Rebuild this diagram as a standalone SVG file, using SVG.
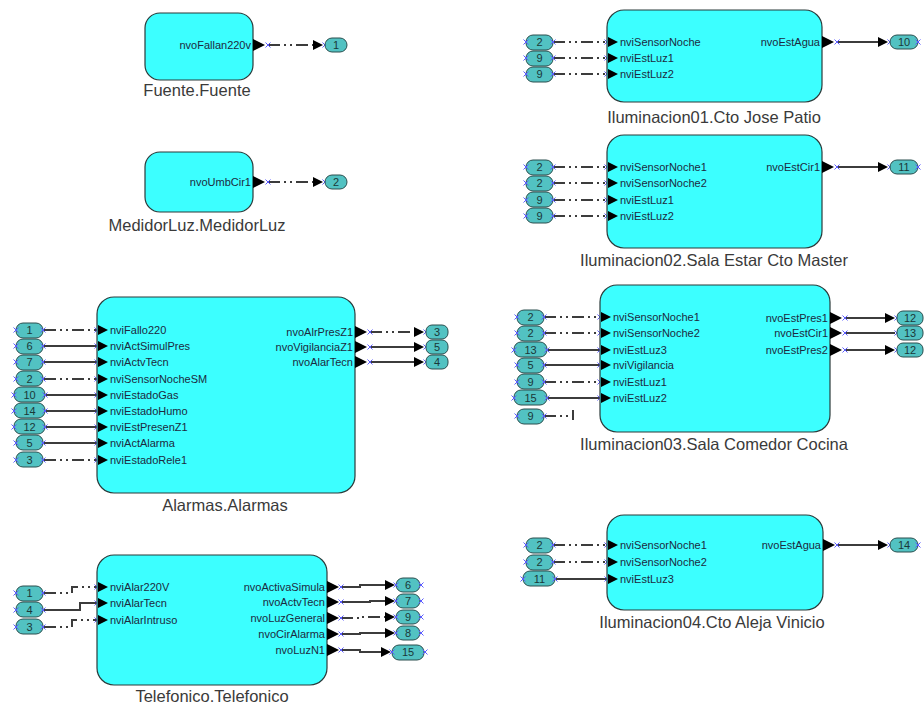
<svg xmlns="http://www.w3.org/2000/svg" xmlns:xlink="http://www.w3.org/1999/xlink" width="924" height="706" viewBox="0 0 924 706">
  <style>
    .box { fill: #3cffff; stroke: #2b3a3a; stroke-width: 1.2; }
    .nl { font-family: "Liberation Sans", Arial, sans-serif; font-size: 16.5px; fill: #3a3a3a; text-anchor: middle; }
    .pi { font-family: "Liberation Sans", Arial, sans-serif; font-size: 11px; fill: #1c2a40; }
    .po { font-family: "Liberation Sans", Arial, sans-serif; font-size: 11px; fill: #1c2a40; text-anchor: end; }
    .pill { fill: #52c2c2; stroke: #2a4f4f; stroke-width: 1; }
    .pt { font-family: "Liberation Sans", Arial, sans-serif; font-size: 11px; fill: #1a3838; text-anchor: middle; }
    .w { fill: none; stroke: #3c3c3c; stroke-width: 2; }
    .dd { fill: none; stroke: #3c3c3c; stroke-width: 2; stroke-dasharray: 12 4 2 4 2 4; }
    .xm { fill: none; stroke: #5b5bff; stroke-width: 1; }
  </style>
  <defs>
    <path id="pin" d="M0,-5 L10,0 L0,5 Z" fill="#000"/>
    <path id="pout" d="M0,-6 L12,0 L0,6 Z" fill="#000"/>
    <path id="ah" d="M-10,-5 L0,0 L-10,5 Z" fill="#000"/>
    <path id="xm" class="xm" d="M-2.5,-2.5 L2.5,2.5 M-2.5,2.5 L2.5,-2.5"/>
  </defs>

  <!-- ============ connectors ============ -->
  <g id="connectors">
    <!-- Fuente / MedidorLuz -->
    <line class="dd" x1="268" y1="45" x2="314" y2="45"/>
    <line class="dd" x1="268" y1="182" x2="314" y2="182"/>

    <!-- Alarmas inputs -->
    <line class="dd" x1="44" y1="330" x2="97" y2="330"/>
    <line class="w" x1="44" y1="346" x2="97" y2="346"/>
    <line class="w" x1="44" y1="362" x2="97" y2="362"/>
    <line class="dd" x1="44" y1="379" x2="97" y2="379"/>
    <line class="w" x1="46" y1="395" x2="97" y2="395"/>
    <line class="w" x1="46" y1="411" x2="97" y2="411"/>
    <line class="w" x1="46" y1="427" x2="97" y2="427"/>
    <line class="w" x1="44" y1="443" x2="97" y2="443"/>
    <line class="dd" x1="44" y1="460" x2="97" y2="460"/>
    <!-- Alarmas outputs -->
    <line class="dd" x1="370" y1="332" x2="416" y2="332"/>
    <line class="w" x1="370" y1="347" x2="416" y2="347"/>
    <line class="w" x1="370" y1="362" x2="416" y2="362"/>

    <!-- Telefonico inputs -->
    <polyline class="dd" points="44,593 72,593 72,587 97,587"/>
    <polyline class="w" points="44,610 80,610 80,603 97,603"/>
    <polyline class="dd" points="44,627 72,627 72,620 97,620"/>
    <!-- Telefonico outputs -->
    <polyline class="w" points="341,587 360,587 360,585 387,585"/>
    <polyline class="w" points="341,602 370,602 370,601 387,601"/>
    <polyline class="dd" points="341,618 360,618 360,617 387,617"/>
    <polyline class="w" points="341,634 360,634 360,633 387,633"/>
    <polyline class="w" points="341,650 360,650 360,652 383,652"/>

    <!-- Iluminacion01 -->
    <line class="dd" x1="553" y1="42" x2="607" y2="42"/>
    <line class="dd" x1="553" y1="58" x2="607" y2="58"/>
    <line class="dd" x1="553" y1="74" x2="607" y2="74"/>
    <line class="w" x1="837" y1="42" x2="880" y2="42"/>

    <!-- Iluminacion02 -->
    <line class="dd" x1="553" y1="167" x2="607" y2="167"/>
    <line class="dd" x1="553" y1="183" x2="607" y2="183"/>
    <line class="dd" x1="553" y1="200" x2="607" y2="200"/>
    <line class="dd" x1="553" y1="216" x2="607" y2="216"/>
    <line class="w" x1="837" y1="167" x2="880" y2="167"/>

    <!-- Iluminacion03 -->
    <line class="dd" x1="544" y1="317" x2="600" y2="317"/>
    <line class="dd" x1="544" y1="333" x2="600" y2="333"/>
    <line class="w" x1="547" y1="350" x2="600" y2="350"/>
    <line class="w" x1="544" y1="365" x2="600" y2="365"/>
    <line class="dd" x1="544" y1="382" x2="600" y2="382"/>
    <line class="w" x1="547" y1="398" x2="600" y2="398"/>
    <line class="dd" x1="544" y1="416" x2="568" y2="416"/>
    <line class="w" x1="573" y1="410" x2="573" y2="420" stroke-width="1.5"/>
    <line class="w" x1="845" y1="318" x2="887" y2="318"/>
    <line class="w" x1="845" y1="333" x2="895" y2="333"/>
    <line class="w" x1="845" y1="350" x2="887" y2="350"/>

    <!-- Iluminacion04 -->
    <line class="dd" x1="553" y1="545" x2="607" y2="545"/>
    <line class="dd" x1="553" y1="562" x2="607" y2="562"/>
    <line class="w" x1="553" y1="579" x2="607" y2="579"/>
    <line class="w" x1="837" y1="545" x2="880" y2="545"/>

    <!-- arrowheads at the receiving references -->
    <use href="#ah" x="323" y="45"/>
    <use href="#ah" x="323" y="182"/>
    <use href="#ah" x="424" y="332"/>
    <use href="#ah" x="424" y="347"/>
    <use href="#ah" x="424" y="362"/>
    <use href="#ah" x="395" y="585"/>
    <use href="#ah" x="395" y="601"/>
    <use href="#ah" x="395" y="617"/>
    <use href="#ah" x="395" y="633"/>
    <use href="#ah" x="391" y="652"/>
    <use href="#ah" x="888" y="42"/>
    <use href="#ah" x="888" y="167"/>
    <use href="#ah" x="895" y="318"/>
    <use href="#ah" x="895" y="350"/>
    <use href="#ah" x="888" y="545"/>

    <!-- binding end marks -->
    <use href="#xm" x="268" y="45"/><use href="#xm" x="325" y="45"/>
    <use href="#xm" x="268" y="182"/><use href="#xm" x="325" y="182"/>
    <use href="#xm" x="97" y="330"/><use href="#xm" x="97" y="346"/><use href="#xm" x="97" y="362"/>
    <use href="#xm" x="97" y="379"/><use href="#xm" x="97" y="395"/><use href="#xm" x="97" y="411"/>
    <use href="#xm" x="97" y="427"/><use href="#xm" x="97" y="443"/><use href="#xm" x="97" y="460"/>
    <use href="#xm" x="370" y="332"/><use href="#xm" x="370" y="347"/><use href="#xm" x="370" y="362"/>
    <use href="#xm" x="426" y="332"/><use href="#xm" x="426" y="347"/><use href="#xm" x="426" y="362"/>
    <use href="#xm" x="97" y="587"/><use href="#xm" x="97" y="603"/><use href="#xm" x="97" y="620"/>
    <use href="#xm" x="341" y="587"/><use href="#xm" x="341" y="602"/><use href="#xm" x="341" y="618"/>
    <use href="#xm" x="341" y="634"/><use href="#xm" x="341" y="650"/>
    <use href="#xm" x="607" y="42"/><use href="#xm" x="607" y="58"/><use href="#xm" x="607" y="74"/>
    <use href="#xm" x="837" y="42"/><use href="#xm" x="890" y="42"/>
    <use href="#xm" x="607" y="167"/><use href="#xm" x="607" y="183"/><use href="#xm" x="607" y="200"/><use href="#xm" x="607" y="216"/>
    <use href="#xm" x="837" y="167"/><use href="#xm" x="890" y="167"/>
    <use href="#xm" x="600" y="317"/><use href="#xm" x="600" y="333"/><use href="#xm" x="600" y="350"/>
    <use href="#xm" x="600" y="365"/><use href="#xm" x="600" y="382"/><use href="#xm" x="600" y="398"/>
    <use href="#xm" x="845" y="318"/><use href="#xm" x="845" y="333"/><use href="#xm" x="845" y="350"/>
    <use href="#xm" x="897" y="318"/><use href="#xm" x="897" y="333"/><use href="#xm" x="897" y="350"/>
    <use href="#xm" x="607" y="545"/><use href="#xm" x="607" y="562"/><use href="#xm" x="607" y="579"/>
    <use href="#xm" x="837" y="545"/><use href="#xm" x="890" y="545"/>
  </g>

  <!-- ============ function blocks ============ -->
  <g id="fuente">
    <rect class="box" x="145" y="13" width="108" height="67" rx="15"/>
    <text class="po" x="251" y="49">nvoFallan220v</text>
    <use href="#pout" x="253" y="45"/>
    <text class="nl" x="197" y="96">Fuente.Fuente</text>
  </g>

  <g id="medidorluz">
    <rect class="box" x="145" y="152" width="108" height="60" rx="15"/>
    <text class="po" x="251" y="186">nvoUmbCir1</text>
    <use href="#pout" x="253" y="182"/>
    <text class="nl" x="197" y="231">MedidorLuz.MedidorLuz</text>
  </g>

  <g id="alarmas">
    <rect class="box" x="97" y="297" width="258" height="196" rx="17"/>
    <use href="#pin" x="98" y="330"/><text class="pi" x="110" y="334">nviFallo220</text>
    <use href="#pin" x="98" y="346"/><text class="pi" x="110" y="350">nviActSimulPres</text>
    <use href="#pin" x="98" y="362"/><text class="pi" x="110" y="366">nviActvTecn</text>
    <use href="#pin" x="98" y="379"/><text class="pi" x="110" y="383">nviSensorNocheSM</text>
    <use href="#pin" x="98" y="395"/><text class="pi" x="110" y="399">nviEstadoGas</text>
    <use href="#pin" x="98" y="411"/><text class="pi" x="110" y="415">nviEstadoHumo</text>
    <use href="#pin" x="98" y="427"/><text class="pi" x="110" y="431">nviEstPresenZ1</text>
    <use href="#pin" x="98" y="443"/><text class="pi" x="110" y="447">nviActAlarma</text>
    <use href="#pin" x="98" y="460"/><text class="pi" x="110" y="464">nviEstadoRele1</text>
    <text class="po" x="353" y="336">nvoAlrPresZ1</text><use href="#pout" x="355" y="332"/>
    <text class="po" x="353" y="351">nvoVigilanciaZ1</text><use href="#pout" x="355" y="347"/>
    <text class="po" x="353" y="366">nvoAlarTecn</text><use href="#pout" x="355" y="362"/>
    <text class="nl" x="225" y="511">Alarmas.Alarmas</text>
  </g>

  <g id="telefonico">
    <rect class="box" x="97" y="555" width="230" height="130" rx="17"/>
    <use href="#pin" x="98" y="587"/><text class="pi" x="110" y="591">nviAlar220V</text>
    <use href="#pin" x="98" y="603"/><text class="pi" x="110" y="607">nviAlarTecn</text>
    <use href="#pin" x="98" y="620"/><text class="pi" x="110" y="624">nviAlarIntruso</text>
    <text class="po" x="325" y="591">nvoActivaSimula</text><use href="#pout" x="327" y="587"/>
    <text class="po" x="325" y="606">nvoActvTecn</text><use href="#pout" x="327" y="602"/>
    <text class="po" x="325" y="622">nvoLuzGeneral</text><use href="#pout" x="327" y="618"/>
    <text class="po" x="325" y="638">nvoCirAlarma</text><use href="#pout" x="327" y="634"/>
    <text class="po" x="325" y="654">nvoLuzN1</text><use href="#pout" x="327" y="650"/>
    <text class="nl" x="212" y="702">Telefonico.Telefonico</text>
  </g>

  <g id="iluminacion01">
    <rect class="box" x="607" y="10" width="215" height="92" rx="17"/>
    <use href="#pin" x="608" y="42"/><text class="pi" x="620" y="46">nviSensorNoche</text>
    <use href="#pin" x="608" y="58"/><text class="pi" x="620" y="62">nviEstLuz1</text>
    <use href="#pin" x="608" y="74"/><text class="pi" x="620" y="78">nviEstLuz2</text>
    <text class="po" x="820" y="46">nvoEstAgua</text><use href="#pout" x="822" y="42"/>
    <text class="nl" x="714" y="123">Iluminacion01.Cto Jose Patio</text>
  </g>

  <g id="iluminacion02">
    <rect class="box" x="607" y="135" width="215" height="113" rx="17"/>
    <use href="#pin" x="608" y="167"/><text class="pi" x="620" y="171">nviSensorNoche1</text>
    <use href="#pin" x="608" y="183"/><text class="pi" x="620" y="187">nviSensorNoche2</text>
    <use href="#pin" x="608" y="200"/><text class="pi" x="620" y="204">nviEstLuz1</text>
    <use href="#pin" x="608" y="216"/><text class="pi" x="620" y="220">nviEstLuz2</text>
    <text class="po" x="820" y="171">nvoEstCir1</text><use href="#pout" x="822" y="167"/>
    <text class="nl" x="714" y="266">Iluminacion02.Sala Estar Cto Master</text>
  </g>

  <g id="iluminacion03">
    <rect class="box" x="600" y="285" width="230" height="147" rx="17"/>
    <use href="#pin" x="601" y="317"/><text class="pi" x="613" y="321">nviSensorNoche1</text>
    <use href="#pin" x="601" y="333"/><text class="pi" x="613" y="337">nviSensorNoche2</text>
    <use href="#pin" x="601" y="350"/><text class="pi" x="613" y="354">nviEstLuz3</text>
    <use href="#pin" x="601" y="365"/><text class="pi" x="613" y="369">nviVigilancia</text>
    <use href="#pin" x="601" y="382"/><text class="pi" x="613" y="386">nviEstLuz1</text>
    <use href="#pin" x="601" y="398"/><text class="pi" x="613" y="402">nviEstLuz2</text>
    <text class="po" x="828" y="322">nvoEstPres1</text><use href="#pout" x="830" y="318"/>
    <text class="po" x="828" y="337">nvoEstCir1</text><use href="#pout" x="830" y="333"/>
    <text class="po" x="828" y="354">nvoEstPres2</text><use href="#pout" x="830" y="350"/>
    <text class="nl" x="714" y="450">Iluminacion03.Sala Comedor Cocina</text>
  </g>

  <g id="iluminacion04">
    <rect class="box" x="607" y="515" width="216" height="95" rx="17"/>
    <use href="#pin" x="608" y="545"/><text class="pi" x="620" y="549">nviSensorNoche1</text>
    <use href="#pin" x="608" y="562"/><text class="pi" x="620" y="566">nviSensorNoche2</text>
    <use href="#pin" x="608" y="579"/><text class="pi" x="620" y="583">nviEstLuz3</text>
    <text class="po" x="821" y="549">nvoEstAgua</text><use href="#pout" x="823" y="545"/>
    <text class="nl" x="712" y="628">Iluminacion04.Cto Aleja Vinicio</text>
  </g>

  <!-- ============ network variable references ============ -->
  <g id="ref-fuente">
    <rect class="pill" x="325" y="38" width="22" height="14" rx="7"/><text class="pt" x="336" y="49">1</text>
  </g>
  <g id="ref-medidorluz">
    <rect class="pill" x="325" y="175" width="22" height="14" rx="7"/><text class="pt" x="336" y="186">2</text>
  </g>

  <g id="ref-alarmas-in">
    <rect class="pill" x="16" y="323" width="27" height="15" rx="7"/><text class="pt" x="29.5" y="334">1</text>
    <rect class="pill" x="16" y="339" width="27" height="15" rx="7"/><text class="pt" x="29.5" y="350">6</text>
    <rect class="pill" x="16" y="355" width="27" height="15" rx="7"/><text class="pt" x="29.5" y="366">7</text>
    <rect class="pill" x="16" y="371" width="27" height="15" rx="7"/><text class="pt" x="29.5" y="383">2</text>
    <rect class="pill" x="14" y="387" width="31" height="15" rx="7"/><text class="pt" x="29.5" y="399">10</text>
    <rect class="pill" x="14" y="403" width="31" height="15" rx="7"/><text class="pt" x="29.5" y="415">14</text>
    <rect class="pill" x="14" y="419" width="31" height="15" rx="7"/><text class="pt" x="29.5" y="431">12</text>
    <rect class="pill" x="16" y="435" width="27" height="15" rx="7"/><text class="pt" x="29.5" y="447">5</text>
    <rect class="pill" x="16" y="452" width="27" height="15" rx="7"/><text class="pt" x="29.5" y="464">3</text>
    <use href="#xm" x="16" y="330"/><use href="#xm" x="43" y="330"/>
    <use href="#xm" x="16" y="346"/><use href="#xm" x="43" y="346"/>
    <use href="#xm" x="16" y="362"/><use href="#xm" x="43" y="362"/>
    <use href="#xm" x="16" y="379"/><use href="#xm" x="43" y="379"/>
    <use href="#xm" x="14" y="395"/><use href="#xm" x="45" y="395"/>
    <use href="#xm" x="14" y="411"/><use href="#xm" x="45" y="411"/>
    <use href="#xm" x="14" y="427"/><use href="#xm" x="45" y="427"/>
    <use href="#xm" x="16" y="443"/><use href="#xm" x="43" y="443"/>
    <use href="#xm" x="16" y="460"/><use href="#xm" x="43" y="460"/>
  </g>
  <g id="ref-alarmas-out">
    <rect class="pill" x="426" y="325" width="22" height="14" rx="6"/><text class="pt" x="437" y="336">3</text>
    <rect class="pill" x="426" y="340" width="22" height="14" rx="6"/><text class="pt" x="437" y="351">5</text>
    <rect class="pill" x="426" y="355" width="22" height="14" rx="6"/><text class="pt" x="437" y="366">4</text>
  </g>

  <g id="ref-telefonico-in">
    <rect class="pill" x="16" y="586" width="27" height="15" rx="7"/><text class="pt" x="29.5" y="597">1</text>
    <rect class="pill" x="16" y="602" width="27" height="15" rx="7"/><text class="pt" x="29.5" y="614">4</text>
    <rect class="pill" x="16" y="619" width="27" height="15" rx="7"/><text class="pt" x="29.5" y="631">3</text>
    <use href="#xm" x="16" y="593"/><use href="#xm" x="43" y="593"/>
    <use href="#xm" x="16" y="610"/><use href="#xm" x="43" y="610"/>
    <use href="#xm" x="16" y="627"/><use href="#xm" x="43" y="627"/>
  </g>
  <g id="ref-telefonico-out">
    <rect class="pill" x="396" y="578" width="24" height="14" rx="7"/><text class="pt" x="408" y="589">6</text>
    <rect class="pill" x="396" y="594" width="24" height="14" rx="7"/><text class="pt" x="408" y="605">7</text>
    <rect class="pill" x="396" y="610" width="24" height="14" rx="7"/><text class="pt" x="408" y="621">9</text>
    <rect class="pill" x="396" y="626" width="24" height="14" rx="7"/><text class="pt" x="408" y="637">8</text>
    <rect class="pill" x="392" y="645" width="32" height="15" rx="7"/><text class="pt" x="408" y="656">15</text>
    <use href="#xm" x="396" y="585"/><use href="#xm" x="421" y="585"/>
    <use href="#xm" x="396" y="601"/><use href="#xm" x="421" y="601"/>
    <use href="#xm" x="396" y="617"/><use href="#xm" x="421" y="617"/>
    <use href="#xm" x="396" y="633"/><use href="#xm" x="421" y="633"/>
    <use href="#xm" x="392" y="652"/><use href="#xm" x="425" y="652"/>
  </g>

  <g id="ref-iluminacion01">
    <rect class="pill" x="526" y="35" width="27" height="15" rx="7"/><text class="pt" x="539.5" y="46">2</text>
    <rect class="pill" x="526" y="51" width="27" height="15" rx="7"/><text class="pt" x="539.5" y="62">9</text>
    <rect class="pill" x="526" y="67" width="27" height="15" rx="7"/><text class="pt" x="539.5" y="78">9</text>
    <use href="#xm" x="526" y="42"/><use href="#xm" x="553" y="42"/>
    <use href="#xm" x="526" y="58"/><use href="#xm" x="553" y="58"/>
    <use href="#xm" x="526" y="74"/><use href="#xm" x="553" y="74"/>
    <rect class="pill" x="890" y="35" width="28" height="14" rx="7"/><text class="pt" x="904" y="46">10</text>
    <use href="#xm" x="918" y="42"/>
  </g>

  <g id="ref-iluminacion02">
    <rect class="pill" x="526" y="160" width="27" height="15" rx="7"/><text class="pt" x="539.5" y="171">2</text>
    <rect class="pill" x="526" y="176" width="27" height="15" rx="7"/><text class="pt" x="539.5" y="187">2</text>
    <rect class="pill" x="526" y="192" width="27" height="15" rx="7"/><text class="pt" x="539.5" y="204">9</text>
    <rect class="pill" x="526" y="208" width="27" height="15" rx="7"/><text class="pt" x="539.5" y="220">9</text>
    <use href="#xm" x="526" y="167"/><use href="#xm" x="553" y="167"/>
    <use href="#xm" x="526" y="183"/><use href="#xm" x="553" y="183"/>
    <use href="#xm" x="526" y="200"/><use href="#xm" x="553" y="200"/>
    <use href="#xm" x="526" y="216"/><use href="#xm" x="553" y="216"/>
    <rect class="pill" x="890" y="160" width="28" height="14" rx="7"/><text class="pt" x="904" y="171">11</text>
    <use href="#xm" x="918" y="167"/>
  </g>

  <g id="ref-iluminacion03">
    <rect class="pill" x="517" y="310" width="27" height="15" rx="7"/><text class="pt" x="530.5" y="321">2</text>
    <rect class="pill" x="517" y="326" width="27" height="15" rx="7"/><text class="pt" x="530.5" y="337">2</text>
    <rect class="pill" x="514" y="342" width="33" height="15" rx="7"/><text class="pt" x="530.5" y="354">13</text>
    <rect class="pill" x="517" y="358" width="27" height="15" rx="7"/><text class="pt" x="530.5" y="369">5</text>
    <rect class="pill" x="517" y="374" width="27" height="15" rx="7"/><text class="pt" x="530.5" y="386">9</text>
    <rect class="pill" x="514" y="390" width="33" height="15" rx="7"/><text class="pt" x="530.5" y="402">15</text>
    <rect class="pill" x="517" y="409" width="27" height="15" rx="7"/><text class="pt" x="530.5" y="420">9</text>
    <use href="#xm" x="517" y="317"/><use href="#xm" x="544" y="317"/>
    <use href="#xm" x="517" y="333"/><use href="#xm" x="544" y="333"/>
    <use href="#xm" x="514" y="350"/><use href="#xm" x="547" y="350"/>
    <use href="#xm" x="517" y="365"/><use href="#xm" x="544" y="365"/>
    <use href="#xm" x="517" y="382"/><use href="#xm" x="544" y="382"/>
    <use href="#xm" x="514" y="398"/><use href="#xm" x="547" y="398"/>
    <use href="#xm" x="517" y="416"/><use href="#xm" x="544" y="416"/>
    <rect class="pill" x="897" y="311" width="26" height="14" rx="6"/><text class="pt" x="910" y="322">12</text>
    <rect class="pill" x="897" y="326" width="26" height="14" rx="6"/><text class="pt" x="910" y="337">13</text>
    <rect class="pill" x="897" y="343" width="26" height="14" rx="6"/><text class="pt" x="910" y="354">12</text>
  </g>

  <g id="ref-iluminacion04">
    <rect class="pill" x="526" y="538" width="27" height="15" rx="7"/><text class="pt" x="539.5" y="549">2</text>
    <rect class="pill" x="526" y="555" width="27" height="15" rx="7"/><text class="pt" x="539.5" y="566">2</text>
    <rect class="pill" x="523" y="571" width="32" height="15" rx="7"/><text class="pt" x="539.5" y="583">11</text>
    <use href="#xm" x="526" y="545"/><use href="#xm" x="553" y="545"/>
    <use href="#xm" x="526" y="562"/><use href="#xm" x="553" y="562"/>
    <use href="#xm" x="523" y="579"/><use href="#xm" x="555" y="579"/>
    <rect class="pill" x="890" y="538" width="28" height="14" rx="7"/><text class="pt" x="904" y="549">14</text>
    <use href="#xm" x="918" y="545"/>
  </g>
</svg>
